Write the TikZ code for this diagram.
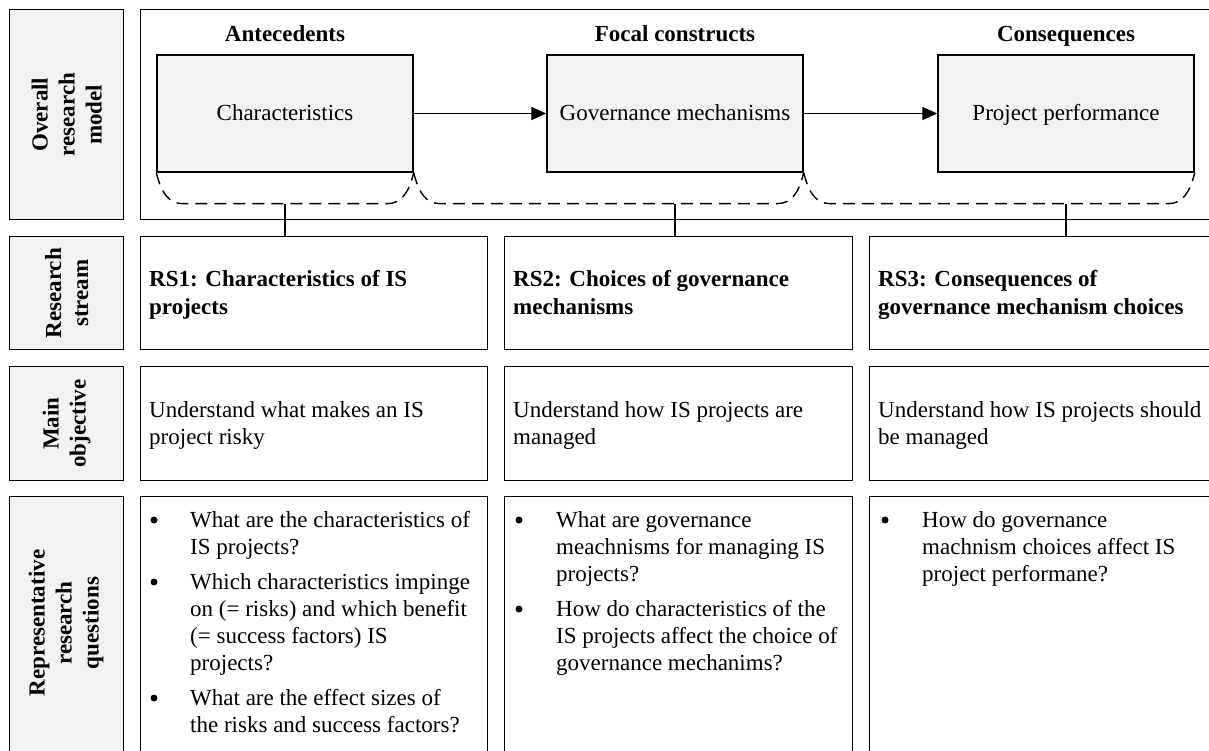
\documentclass[tikz,border=0pt]{standalone}
\usepackage{fontspec}
\setmainfont{Liberation Serif}
\usetikzlibrary{arrows.meta,calc}
\definecolor{panelgray}{HTML}{F2F2F2}

% one node per printed line, 27pt apart: style, name prefix, x, first baseline, lines
\newcommand\textlines[5]{%
  \foreach \lineitem [count=\k from 0] in {#5}{%
    \node[#1] (#2-\k) at (#3, #4+27*\k) {\lineitem};}}
% dashed bracket hanging under one or two construct boxes
\newcommand\bracketpath[2]{%
  \draw[bracket] (#1) .. controls ($(#1)+(5,20)$) and ($(#1)+(12,31)$) .. ($(#1)+(27,31)$)
    -- ($(#2)+(-27,31)$) .. controls ($(#2)+(-12,31)$) and ($(#2)+(-5,20)$) .. (#2);}

\begin{document}
\begin{tikzpicture}[x=1pt,y=-1pt,
  frame/.style={draw=black, line width=1.4pt, inner sep=0pt, anchor=north west},
  sidebox/.style={frame, fill=panelgray},
  cell/.style={frame, fill=white},
  sidetext/.style={rotate=90, align=center, inner sep=0pt,
    font=\bfseries\fontsize{23pt}{27pt}\selectfont},
  construct/.style={draw=black, line width=1.4pt, fill=panelgray, inner sep=0pt,
    minimum width=256pt, minimum height=117pt, text height=19pt, text depth=5pt,
    font=\fontsize{23pt}{27pt}\selectfont},
  headtext/.style={anchor=base, inner sep=0pt, font=\bfseries\fontsize{23pt}{27pt}\selectfont},
  linetext/.style={anchor=base west, inner sep=0pt, font=\fontsize{23pt}{27pt}\selectfont},
  boldline/.style={linetext, font=\bfseries\fontsize{23pt}{27pt}\selectfont},
  flow/.style={line width=1.3pt, -{Triangle[length=15pt,width=13pt]}},
  bracket/.style={line width=1.4pt, dash pattern=on 12pt off 7pt},
  link/.style={line width=1.4pt},
  dot/.style={circle, fill=black, inner sep=0pt, minimum size=7pt},
]
\useasboundingbox (0,0) rectangle (1209,751);
\clip (0,0) rectangle (1209,751);

% ---- row labels ----
\node[sidebox, minimum width=114pt, minimum height=210pt] (side1) at (9,9) {};
\node[sidebox, minimum width=114pt, minimum height=113pt] (side2) at (9,236) {};
\node[sidebox, minimum width=114pt, minimum height=114pt] (side3) at (9,366) {};
\node[sidebox, minimum width=114pt, minimum height=270pt] (side4) at (9,496) {};
\node[sidetext] (sidelab1) at (side1.center) {Overall\\research\\model};
\node[sidetext] (sidelab2) at (side2.center) {Research\\stream};
\node[sidetext] (sidelab3) at (side3.center) {Main\\objective};
\node[sidetext] (sidelab4) at (66,623) {Representative\\research\\questions};

% ---- overall research model ----
\node[cell, minimum width=1090pt, minimum height=210pt] (model) at (140,9) {};
\node[construct] (ante)  at (285,113.5)  {Characteristics};
\node[construct] (focal) at (675,113.5)  {Governance mechanisms};
\node[construct] (cons)  at (1066,113.5) {Project performance};
\node[headtext] (hante)  at (285,42)  {Antecedents};
\node[headtext] (hfocal) at (675,42)  {Focal constructs};
\node[headtext] (hcons)  at (1066,42) {Consequences};
\draw[flow] (ante) -- (focal);
\draw[flow] (focal) -- (cons);

\bracketpath{ante.south west}{ante.south east}
\bracketpath{ante.south east}{focal.south east}
\bracketpath{focal.south east}{cons.south east}

% ---- research streams ----
\node[cell, minimum width=347pt, minimum height=113pt] (rs1) at (140,236) {};
\node[cell, minimum width=348pt, minimum height=113pt] (rs2) at (504,236) {};
\node[cell, minimum width=360pt, minimum height=113pt] (rs3) at (869,236) {};
\textlines{boldline}{rsa}{149}{287}{RS1: Characteristics of IS,projects}
\textlines{boldline}{rsb}{513}{287}{RS2: Choices of governance,mechanisms}
\textlines{boldline}{rsc}{878}{287}{RS3: Consequences of,governance mechanism choices}

\coordinate (k1) at ($(ante.south)+(0,31)$);
\coordinate (k2) at ($(focal.south)+(0,31)$);
\coordinate (k3) at ($(cons.south)+(0,31)$);
\draw[link] (k1) -- (k1 |- rs1.north);
\draw[link] (k2) -- (k2 |- rs2.north);
\draw[link] (k3) -- (k3 |- rs3.north);

% ---- main objectives ----
\node[cell, minimum width=347pt, minimum height=114pt] (obj1) at (140,366) {};
\node[cell, minimum width=348pt, minimum height=114pt] (obj2) at (504,366) {};
\node[cell, minimum width=360pt, minimum height=114pt] (obj3) at (869,366) {};
\textlines{linetext}{oba}{149}{417}{Understand what makes an IS,project risky}
\textlines{linetext}{obb}{513}{417}{Understand how IS projects are,managed}
\textlines{linetext}{obc}{878}{417}{Understand how IS projects should,be managed}

% ---- representative research questions ----
\node[cell, minimum width=347pt, minimum height=270pt] (rq1) at (140,496) {};
\node[cell, minimum width=348pt, minimum height=270pt] (rq2) at (504,496) {};
\node[cell, minimum width=360pt, minimum height=270pt] (rq3) at (869,496) {};

\node[dot] (qa1) at (154,520) {};
\textlines{linetext}{qa-one}{190}{527}{What are the characteristics of,IS projects?}
\node[dot] (qa2) at (154,582) {};
\textlines{linetext}{qa-two}{190}{589}{Which characteristics impinge,on (= risks) and which benefit,(= success factors) IS,projects?}
\node[dot] (qa3) at (154,698) {};
\textlines{linetext}{qa-three}{190}{705}{What are the effect sizes of,the risks and success factors?}

\node[dot] (qb1) at (519,520) {};
\textlines{linetext}{qb-one}{556}{527}{What are governance,meachnisms for managing IS,projects?}
\node[dot] (qb2) at (519,609) {};
\textlines{linetext}{qb-two}{556}{616}{How do characteristics of the,IS projects affect the choice of,governance mechanims?}

\node[dot] (qc1) at (885,520) {};
\textlines{linetext}{qc-one}{922}{527}{How do governance,machnism choices affect IS,project performane?}
\end{tikzpicture}
\end{document}
